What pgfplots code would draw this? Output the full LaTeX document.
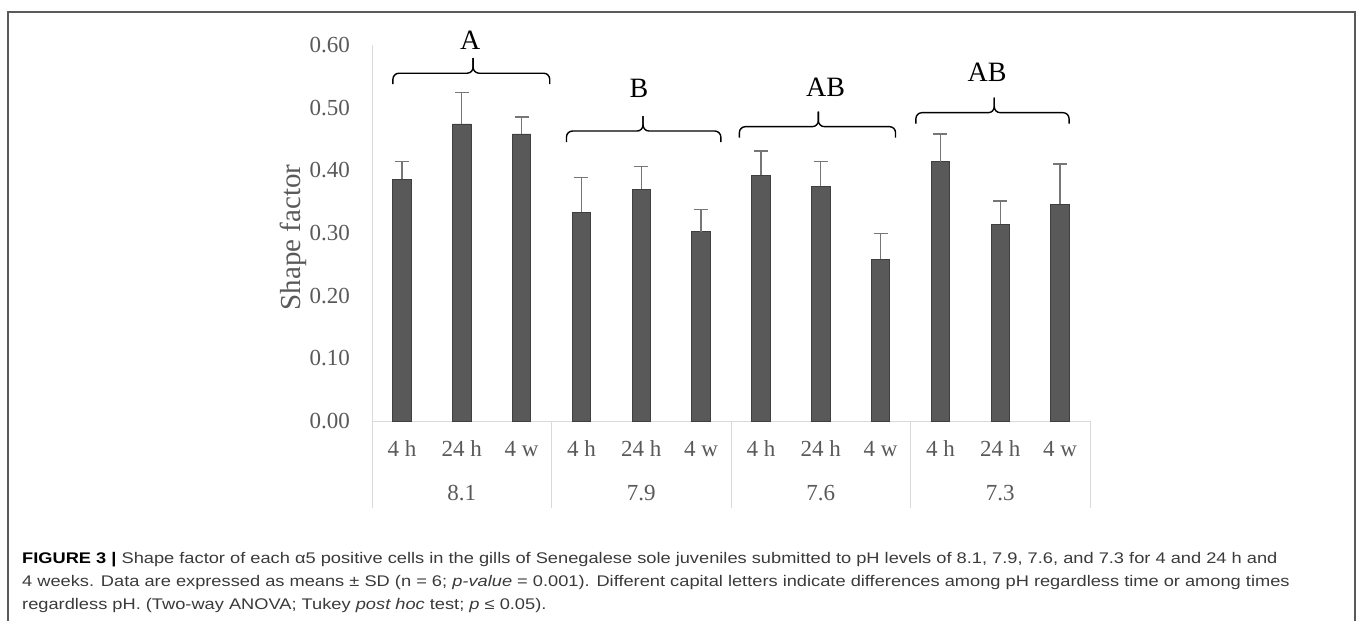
\documentclass[border=0pt]{standalone}
\usepackage{fontspec}
\setmainfont{Liberation Serif}
\newfontfamily\capfont[FakeStretch=1.185]{Liberation Sans}
\usepackage{pgfplots}
\pgfplotsset{compat=1.18}
\definecolor{barfill}{HTML}{595959}
\definecolor{bardraw}{HTML}{3F3F3F}
\definecolor{txtgray}{HTML}{595959}
\definecolor{axgray}{HTML}{D9D9D9}
\definecolor{errgray}{HTML}{767676}
\definecolor{framegray}{HTML}{5A5A5A}
\definecolor{captxt}{HTML}{3A3A3A}
\newcommand{\mybrace}[4]{% x1, x2, xm, yline
  \draw[black, line width=1.4pt, rounded corners=6pt] ([yshift=-11pt]axis cs:#1,#4) -- (axis cs:#1,#4) -- (axis cs:#3,#4) -- ([yshift=15pt]axis cs:#3,#4);
  \draw[black, line width=1.4pt, rounded corners=6pt] ([yshift=15pt]axis cs:#3,#4) -- (axis cs:#3,#4) -- (axis cs:#2,#4) -- ([yshift=-11pt]axis cs:#2,#4);
}
\begin{document}
\begin{tikzpicture}
\path[use as bounding box] (0pt,0pt) rectangle (1358pt,-621pt);
\draw[framegray, line width=1.5pt] (8pt,-621pt) -- (8pt,-12pt) -- (1355pt,-12pt) -- (1355pt,-621pt);
\begin{axis}[
  at={(372pt,-421pt)}, anchor=south west,
  scale only axis, width=718pt, height=376pt,
  xmin=-0.5, xmax=11.5, ymin=0, ymax=0.6,
  clip=false,
  axis x line=bottom, axis y line=left,
  axis line style={-, axgray, line width=1pt},
  major tick length=0pt,
  ytick={0,0.1,0.2,0.3,0.4,0.5,0.6},
  yticklabel style={/pgf/number format/fixed, /pgf/number format/fixed zerofill, /pgf/number format/precision=2, /pgf/number format/assume math mode=true},
  yticklabel style={font=\fontsize{23}{27}\selectfont, text=txtgray, anchor=east, inner sep=0pt, xshift=-22pt},
  xtick={0,1,2,3,4,5,6,7,8,9,10,11},
  xticklabels={4 h,24 h,4 w,4 h,24 h,4 w,4 h,24 h,4 w,4 h,24 h,4 w},
  xticklabel style={font=\fontsize{23}{27}\selectfont, text=txtgray, anchor=base, inner sep=0pt, yshift=-35pt},
  ylabel={Shape factor},
  every axis y label/.style={at={(axis description cs:-0.110,0.488)}, rotate=90, anchor=center, font=\fontsize{29}{33}\selectfont, text=txtgray},
  ybar, bar width=18.5pt,
]
\addplot[fill=barfill, draw=bardraw, line width=0.8pt,
  error bars/.cd, y dir=plus, y explicit,
  error bar style={errgray, line width=1.3pt},
  error mark options={errgray, line width=1.3pt, mark size=7pt, rotate=90}]
  table[x=x, y=y, y error=e] {
x y e
0 0.386 0.028
1 0.474 0.050
2 0.458 0.027
3 0.333 0.056
4 0.370 0.036
5 0.302 0.035
6 0.392 0.039
7 0.375 0.039
8 0.258 0.041
9 0.414 0.044
10 0.314 0.037
11 0.346 0.064
};
% category table lines
\draw[axgray, line width=1pt] (axis cs:-0.5,0) -- ++(0pt,-87pt);
\draw[axgray, line width=1pt] (axis cs:2.5,0) -- ++(0pt,-87pt);
\draw[axgray, line width=1pt] (axis cs:5.5,0) -- ++(0pt,-87pt);
\draw[axgray, line width=1pt] (axis cs:8.5,0) -- ++(0pt,-87pt);
\draw[axgray, line width=1pt] (axis cs:11.5,0) -- ++(0pt,-87pt);
\node[anchor=base, font=\fontsize{23}{27}\selectfont, text=txtgray, inner sep=0pt] at ([yshift=-79pt]axis cs:1,0) {8.1};
\node[anchor=base, font=\fontsize{23}{27}\selectfont, text=txtgray, inner sep=0pt] at ([yshift=-79pt]axis cs:4,0) {7.9};
\node[anchor=base, font=\fontsize{23}{27}\selectfont, text=txtgray, inner sep=0pt] at ([yshift=-79pt]axis cs:7,0) {7.6};
\node[anchor=base, font=\fontsize{23}{27}\selectfont, text=txtgray, inner sep=0pt] at ([yshift=-79pt]axis cs:10,0) {7.3};
% braces
\mybrace{-0.15}{2.47}{1.19}{0.555}
\mybrace{2.75}{5.33}{4.03}{0.4627}
\mybrace{5.64}{8.25}{6.96}{0.4697}
\mybrace{8.59}{11.15}{9.90}{0.492}
\node[font=\fontsize{28}{31}\selectfont, inner sep=0pt] at (axis cs:1.14,0.608) {A};
\node[font=\fontsize{28}{31}\selectfont, inner sep=0pt] at (axis cs:3.96,0.531) {B};
\node[font=\fontsize{28}{31}\selectfont, inner sep=0pt] at (axis cs:7.08,0.533) {AB};
\node[font=\fontsize{28}{31}\selectfont, inner sep=0pt] at (axis cs:9.78,0.557) {AB};
\end{axis}
\node[anchor=base west, inner sep=0pt, font=\capfont\fontsize{15.4}{18}\selectfont, text=captxt] at (22pt,-563.5pt) {{\color{black}\textbf{FIGURE 3 |}} Shape factor of each α5 positive cells in the gills of Senegalese sole juveniles submitted to pH levels of 8.1, 7.9, 7.6, and 7.3 for 4 and 24 h and};
\node[anchor=base west, inner sep=0pt, font=\capfont\fontsize{15.4}{18}\selectfont, text=captxt] at (22pt,-586.8pt) {4 weeks. Data are expressed as means ± SD (n = 6; \textit{p-value} = 0.001). Different capital letters indicate differences among pH regardless time or among times};
\node[anchor=base west, inner sep=0pt, font=\capfont\fontsize{15.4}{18}\selectfont, text=captxt] at (22pt,-609.8pt) {regardless pH. (Two-way ANOVA; Tukey \textit{post hoc} test; \textit{p} ≤ 0.05).};
\end{tikzpicture}
\end{document}
